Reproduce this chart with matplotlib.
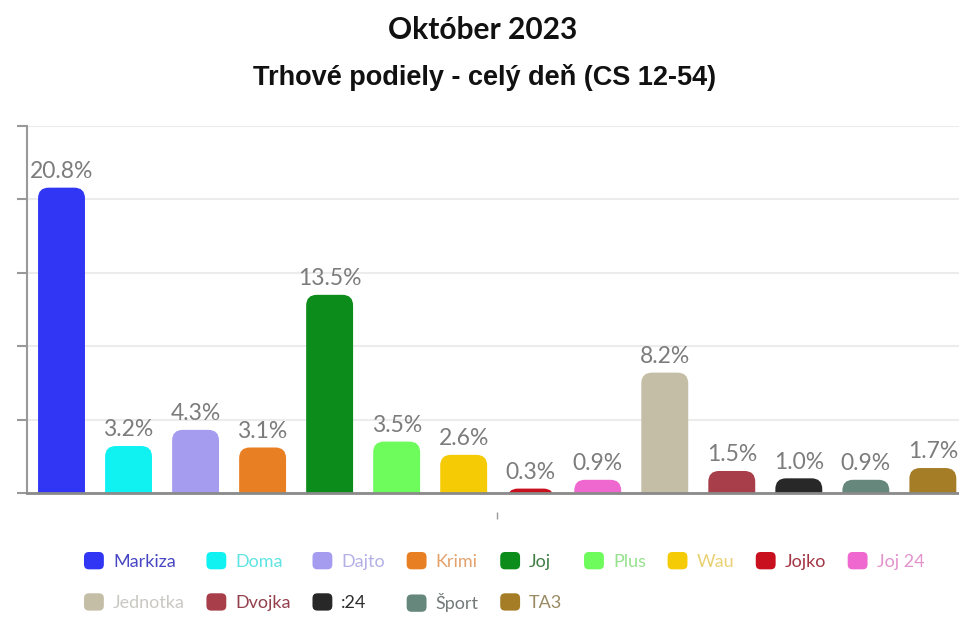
import matplotlib
matplotlib.use("Agg")
import matplotlib.pyplot as plt
from matplotlib.patches import FancyBboxPatch, Patch
from matplotlib.legend_handler import HandlerPatch

# Trhove podiely, oktober 2023 (CS 12-54)
channels = ["Markiza", "Doma", "Dajto", "Krimi", "Joj", "Plus", "Wau",
            "Jojko", "Joj 24", "Jednotka", "Dvojka", ":24", "Šport", "TA3"]
shares = [20.8, 3.2, 4.3, 3.1, 13.5, 3.5, 2.6, 0.3, 0.9, 8.2, 1.5, 1.0, 0.9, 1.7]
bar_colors = ["#3036f4", "#10f2f2", "#a59cf0", "#e87f22", "#0c8c1a", "#6dfc5c",
              "#f4cb05", "#c8101e", "#ef68cf", "#c5bea7", "#a83e4a", "#282828",
              "#66877c", "#a57d27"]
text_colors = ["#4747c4", "#5fe3e3", "#b3b0e6", "#e3a26c", "#3f7f44", "#94e28c",
               "#e9d173", "#a33645", "#e393cc", "#c9c8c2", "#94404d", "#2d2d2d",
               "#737b7a", "#9a8a62"]

fig = plt.figure(figsize=(9.59, 6.39), dpi=100)
ax = fig.add_axes([27/959, 146/639, 932/959, 367/639])

x = list(range(len(shares)))
bars = ax.bar(x, shares, width=0.7, color="none")

# rounded tops: draw each bar again as a rounded box, its lower corners hidden under 0
aspect = (25/367) / (13.905/932)
for b, c in zip(bars, bar_colors):
    h = b.get_height()
    box = FancyBboxPatch((b.get_x(), -1.2), b.get_width(), h + 1.2,
                         boxstyle="round,pad=0,rounding_size=0.16",
                         mutation_aspect=aspect, fc=c, ec="none", zorder=3)
    ax.add_patch(box)
    ax.annotate(f"{h:.1f}%", (b.get_x() + b.get_width()/2, h),
                xytext=(0, 4), textcoords="offset points", ha="center", va="bottom",
                fontsize=16.5, color="#7c7c7c", family="Lato")

ax.set_xlim(-0.515, 13.39)
ax.set_ylim(0, 25)
ax.set_yticks([0, 5, 10, 15, 20, 25])
ax.set_yticklabels([])
ax.set_xticks([])
ax.grid(axis="y", color="#ececec", linewidth=1.5, zorder=0)
ax.set_axisbelow(True)
for s in ["top", "right"]:
    ax.spines[s].set_visible(False)
ax.spines["left"].set_color("#999999")
ax.spines["left"].set_linewidth(1.5)
ax.spines["bottom"].set_color("#8a8a8a")
ax.spines["bottom"].set_linewidth(2)
ax.spines["bottom"].set_zorder(4)
ax.tick_params(axis="y", length=7, width=1.5, color="#999999")

# lone tick under the axis
sec = ax.secondary_xaxis(-0.052)
sec.set_xticks([6.5])
sec.set_xticklabels([""])
sec.spines["bottom"].set_visible(False)
sec.tick_params(length=5, width=1, color="#9a9a9a")

fig.text(0.503, 0.953, "Október 2023", ha="center", va="center",
         fontsize=21.5, family="Lato", fontweight="bold", color="#111111")
fig.text(0.505, 0.878, "Trhové podiely - celý deň (CS 12-54)", ha="center",
         va="center", fontsize=19.5, family="Liberation Sans", fontweight="bold",
         color="#111111")

# legend, ordered so that the column-major fill gives two rows
order = [0, 9, 1, 10, 2, 11, 3, 12, 4, 13, 5, 6, 7, 8]
handles = [Patch(facecolor=bar_colors[i], label=channels[i]) for i in order]


def rounded(legend, orig_handle, xdescent, ydescent, width, height, fontsize):
    return FancyBboxPatch((-xdescent, -ydescent), width, height,
                          boxstyle="round,pad=0,rounding_size=3.5",
                          fc=orig_handle.get_facecolor(), ec="none")


leg = fig.legend(handles=handles, ncols=9, loc="upper left",
                 bbox_to_anchor=(84/959, 1 - 552/639), frameon=False,
                 borderpad=0, borderaxespad=0, handlelength=1.1, handleheight=1.1,
                 handletextpad=0.5, columnspacing=1.2, labelspacing=1.3,
                 prop={"family": "Lato", "size": 13},
                 handler_map={Patch: HandlerPatch(patch_func=rounded)})
for t, i in zip(leg.get_texts(), order):
    t.set_color(text_colors[i])

fig.savefig("out.png", dpi=100)
